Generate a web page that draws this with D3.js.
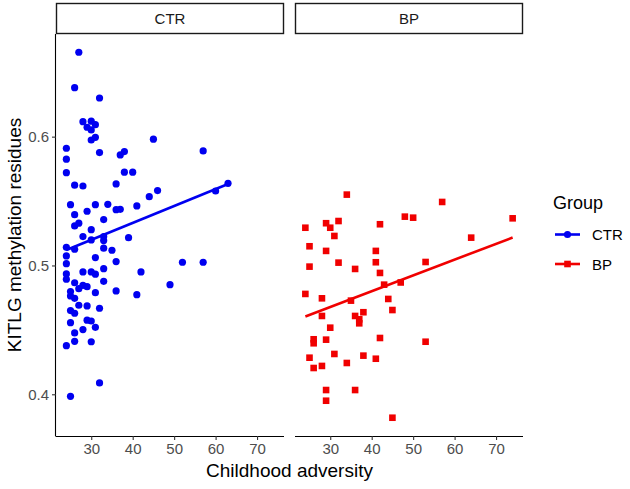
<!DOCTYPE html>
<html><head><meta charset="utf-8">
<script src="https://cdn.jsdelivr.net/npm/d3@7"></script>
<style>body{margin:0;background:#fff}svg{display:block}</style>
</head><body>
<svg id="c" width="630" height="489"></svg>
<script>
const groups = ["CTR", "BP"];
const groupColors = ["#0000f0", "#f00000"];

const ctrX = [27,26,32,28,30,31,29,30,30,31,45,24,32,37,38,24,24,38,40,26,28,36,44,46,
  25,26,29,31,34,36,37,41,27,26,33,30,28,30,33,33,39,24,26,33,35,24,31,24,36,
  28,30,31,33,42,24,24,26,33,27,28,29,49,25,25,26,31,36,41,27,29,32,25,
  26,25,29,30,31,28,26,26,30,24,32,25,57,63,60,52,57];
const ctrY = [0.6655,0.6380,0.6300,0.6116,0.6120,0.6093,0.6073,0.6052,0.5974,0.5995,0.5980,0.5910,0.5876,0.5858,0.5884,0.5825,0.5720,0.5724,0.5724,0.5623,0.5617,0.5633,0.5534,0.5581,
  0.5472,0.5394,0.5421,0.5472,0.5475,0.5433,0.5436,0.5462,0.5328,0.5307,0.5356,0.5278,0.5224,0.5198,0.5224,0.5193,0.5216,0.5141,0.5126,0.5134,0.5118,0.5074,0.5061,0.5014,0.5030,
  0.4950,0.4950,0.4932,0.4975,0.4950,0.4934,0.4893,0.4866,0.4877,0.4820,0.4846,0.4835,0.4851,0.4797,0.4763,0.4745,0.4789,0.4802,0.4773,0.4691,0.4686,0.4668,0.4650,
  0.4629,0.4556,0.4575,0.4569,0.4520,0.4502,0.4476,0.4411,0.4408,0.4377,0.4088,0.3984,0.5889,0.5638,0.5578,0.5025,0.5025];

const bpX = [34,48,24,29,30,32,42,31,25,29,41,25,32,36,41,42,43,47,
  24,28,35,44,45,28,36,38,37,37,30,26,26,29,42,25,31,38,41,34,26,28,29,36,29,45,
  50,57,74,64,53,53];
const bpY = [0.5550,0.5379,0.5293,0.5328,0.5293,0.5345,0.5320,0.5229,0.5149,0.5113,0.5113,0.4991,0.5022,0.4973,0.5025,0.4942,0.4851,0.4868,
  0.4779,0.4745,0.4727,0.4740,0.4654,0.4608,0.4608,0.4637,0.4582,0.4551,0.4517,0.4427,0.4396,0.4424,0.4437,0.4284,0.4313,0.4300,0.4276,0.4243,0.4204,0.4220,0.4033,0.4033,0.3950,0.3818,
  0.5371,0.5493,0.5366,0.5216,0.5027,0.4408];

// fitted regression lines (end points)
const fitCtrX = [24, 63], fitCtrY = [0.512, 0.5633];
const fitBpX = [24, 74], fitBpY = [0.4604, 0.5217];

const xTicks = [30, 40, 50, 60, 70];
const yTicks = [0.4, 0.5, 0.6];
const xTitle = "Childhood adversity";
const yTitle = "KITLG methylation residues";
const legendTitle = "Group";

const svg = d3.select("#c");
const font = "'Liberation Sans', Arial, sans-serif";
const panelLefts = [56, 295], panelW = 228;
const yTop = 34, yBottom = 436;

const allX = ctrX.concat(bpX), allY = ctrY.concat(bpY);
const [xmin, xmax] = d3.extent(allX), [ymin, ymax] = d3.extent(allY);
const ex = (xmax - xmin) * 0.05, ey = (ymax - ymin) * 0.05;
const x = d3.scaleLinear().domain([xmin - ex, xmax + ex]).range([0, panelW]);
const y = d3.scaleLinear().domain([ymin - ey, ymax + ey]).range([yBottom, yTop]);

const series = [
  {name: groups[0], xs: ctrX, ys: ctrY, fx: fitCtrX, fy: fitCtrY, color: groupColors[0], shape: "circle"},
  {name: groups[1], xs: bpX, ys: bpY, fx: fitBpX, fy: fitBpY, color: groupColors[1], shape: "square"}
];

series.forEach((s, i) => {
  const g = svg.append("g").attr("transform", `translate(${panelLefts[i]},0)`);
  // strip
  g.append("rect").attr("x", 0.5).attr("y", 3.5).attr("width", panelW - 1).attr("height", 30)
    .attr("fill", "#fff").attr("stroke", "#1a1a1a").attr("stroke-width", 1.4);
  g.append("text").attr("x", panelW / 2).attr("y", 18.5).attr("text-anchor", "middle")
    .attr("dominant-baseline", "central").attr("font-family", font).attr("font-size", 15)
    .attr("fill", "#1a1a1a").text(s.name);
  // points
  const pts = s.xs.map((v, k) => [v, s.ys[k]]);
  if (s.shape === "circle") {
    g.selectAll("circle.p").data(pts).enter().append("circle").attr("class", "p")
      .attr("cx", d => x(d[0])).attr("cy", d => y(d[1])).attr("r", 3.6).attr("fill", s.color);
  } else {
    const sz = 6.6;
    g.selectAll("rect.p").data(pts).enter().append("rect").attr("class", "p")
      .attr("x", d => x(d[0]) - sz / 2).attr("y", d => y(d[1]) - sz / 2)
      .attr("width", sz).attr("height", sz).attr("fill", s.color);
  }
  // fit line
  g.append("line").attr("x1", x(s.fx[0])).attr("y1", y(s.fy[0]))
    .attr("x2", x(s.fx[1])).attr("y2", y(s.fy[1]))
    .attr("stroke", s.color).attr("stroke-width", 2.6).attr("stroke-linecap", "butt");
  // x axis
  const xa = g.append("g").attr("transform", `translate(0,${yBottom})`)
    .call(d3.axisBottom(x).tickValues(xTicks).tickSize(4).tickPadding(3).tickFormat(d3.format("d")));
  xa.select(".domain").attr("stroke", "#000").attr("stroke-width", 1.1).attr("d", `M0,0.5H${panelW}`);
  xa.selectAll(".tick line").attr("stroke", "#333").attr("stroke-width", 1.1);
  xa.selectAll(".tick text").attr("font-family", font).attr("font-size", 15).attr("fill", "#4d4d4d");
  if (i === 0) {
    const ya = g.append("g").call(d3.axisLeft(y).tickValues(yTicks).tickSize(4).tickPadding(3).tickFormat(d3.format(".1f")));
    ya.select(".domain").attr("stroke", "#000").attr("stroke-width", 1.1).attr("d", `M-0.5,${yTop}V${yBottom + 0.5}`);
    ya.selectAll(".tick line").attr("stroke", "#333").attr("stroke-width", 1.1);
    ya.selectAll(".tick text").attr("font-family", font).attr("font-size", 15).attr("fill", "#4d4d4d");
  }
});

// axis titles
svg.append("text").attr("x", (panelLefts[0] + panelLefts[1] + panelW) / 2).attr("y", 477)
  .attr("text-anchor", "middle").attr("font-family", font).attr("font-size", 19).attr("fill", "#000").text(xTitle);
svg.append("text").attr("transform", `translate(21,${(yTop + yBottom) / 2}) rotate(-90)`)
  .attr("text-anchor", "middle").attr("font-family", font).attr("font-size", 19).attr("fill", "#000").text(yTitle);

// legend
const lg = svg.append("g");
lg.append("text").attr("x", 553).attr("y", 209).attr("font-family", font).attr("font-size", 18).attr("fill", "#000").text(legendTitle);
series.forEach((s, i) => {
  const cy = 234.5 + i * 29.5;
  lg.append("line").attr("x1", 555).attr("x2", 580).attr("y1", cy).attr("y2", cy)
    .attr("stroke", s.color).attr("stroke-width", 2.6);
  if (s.shape === "circle") lg.append("circle").attr("cx", 567.5).attr("cy", cy).attr("r", 3.6).attr("fill", s.color);
  else lg.append("rect").attr("x", 567.5 - 3.3).attr("y", cy - 3.3).attr("width", 6.6).attr("height", 6.6).attr("fill", s.color);
  lg.append("text").attr("x", 592).attr("y", cy).attr("dominant-baseline", "central")
    .attr("font-family", font).attr("font-size", 15).attr("fill", "#000").text(s.name);
});
</script>
</body></html>
